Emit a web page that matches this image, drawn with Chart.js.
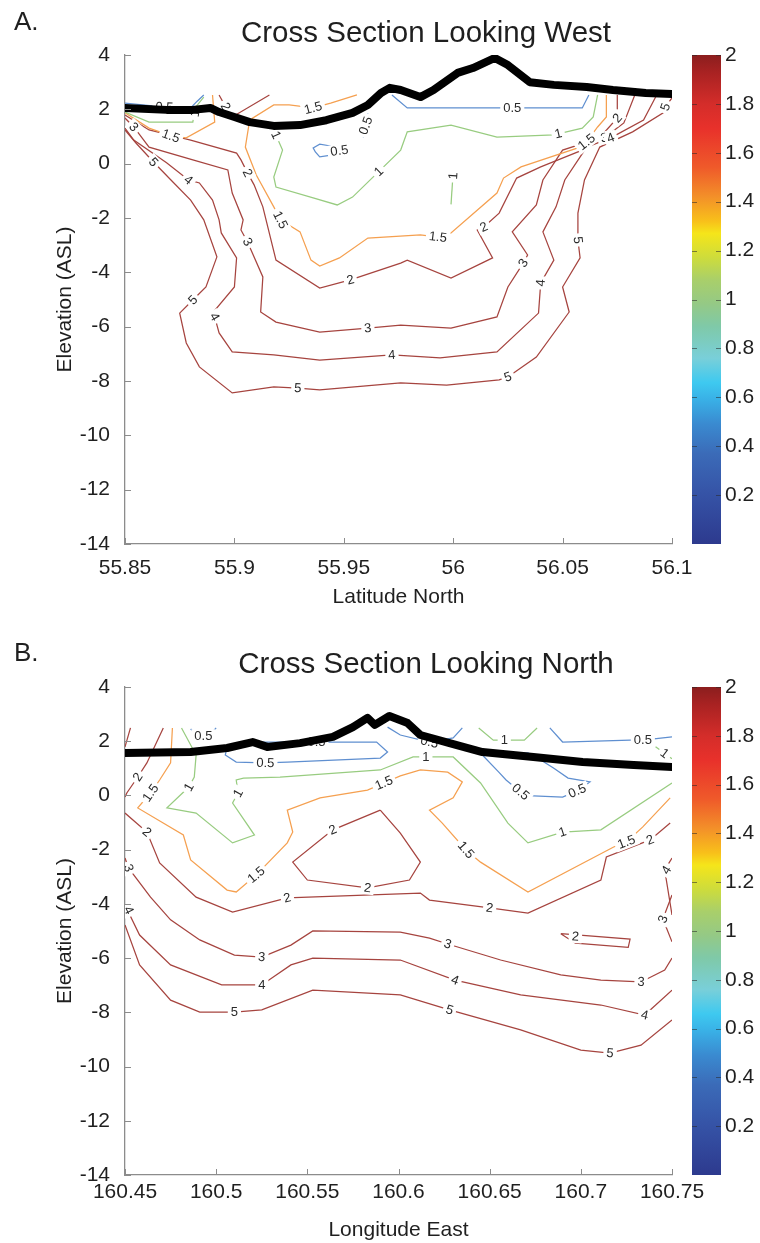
<!DOCTYPE html>
<html>
<head>
<meta charset="utf-8">
<title>Cross sections</title>
<script src="https://cdn.jsdelivr.net/npm/chart.js@4.4.1/dist/chart.umd.min.js"></script>
<style>
  html, body { margin: 0; padding: 0; background: #fff; }
  canvas { display: block; }
</style>
</head>
<body>
<canvas id="westChart" width="760" height="621"></canvas>
<canvas id="northChart" width="760" height="622"></canvas>
<script>
// ---------- axes ----------
const latTicks = [55.85, 55.9, 55.95, 56, 56.05, 56.1];
const lonTicks = [160.45, 160.5, 160.55, 160.6, 160.65, 160.7, 160.75];
const elevTicks = [4, 2, 0, -2, -4, -6, -8, -10, -12, -14];
const cbTicks = [0.2, 0.4, 0.6, 0.8, 1, 1.2, 1.4, 1.6, 1.8, 2];

// colormap of the colour bar (value -> colour)
const cmapAt = [0, 0.22, 0.37, 0.49, 0.59, 0.66, 0.76, 0.89, 0.98, 1.08, 1.17, 1.27, 1.32, 1.42, 1.54, 1.7, 1.8, 1.93, 2];
const cmapCol = ['#2d3a8e', '#3655a8', '#3b6bb8', '#3a8ad0', '#39b0e6', '#3ec9f0', '#79cfd9', '#7fc9a8', '#94c986', '#a9cf6a',
                 '#cddc3c', '#f5e51a', '#f8c01a', '#f39029', '#ef5a2a', '#e8312b', '#d42d2a', '#a82222', '#8b1e1e'];

// ---------- A: looking west (x = latitude N, y = elevation) ----------
const westTopo = [[55.85,2.05],[55.869,1.98],[55.881,1.98],[55.889,2.05],[55.893,1.9],[55.9,1.72],[55.907,1.53],[55.918,1.39],
  [55.93,1.42],[55.942,1.6],[55.954,1.87],[55.961,2.16],[55.967,2.6],[55.971,2.79],[55.976,2.71],[55.985,2.45],[55.991,2.71],
  [56.002,3.34],[56.009,3.52],[56.019,3.89],[56.025,3.63],[56.035,3.0],[56.046,2.9],[56.061,2.82],[56.073,2.71],[56.088,2.6],[56.1,2.56]];

const west05a = [[55.85,2.23],[55.866,2.1],[55.88,2.05],[55.883,2.3],[55.886,2.53]];
const west05b = [[55.944,0.65],[55.939,0.72],[55.936,0.58],[55.937,0.43],[55.939,0.25],[55.945,0.32]];
const west05c = [[55.961,1.85],[55.959,1.4],[55.959,0.95]];
const west05d = [[55.972,2.53],[55.979,2.05],[56.059,2.05],[56.062,2.53]];
const west1a = [[55.85,1.9],[55.861,1.53],[55.881,1.53],[55.882,2.05],[55.886,2.45]];
const west1b = [[55.971,2.75],[55.955,1.95],[55.93,1.45],[55.917,1.4],[55.919,1.05],[55.922,0.5],[55.918,-0.49],[55.919,-0.86],
  [55.936,-1.26],[55.947,-1.52],[55.954,-1.23],[55.976,0.5],[55.979,1.17],[55.999,1.42],[56.02,0.98],[56.046,1.06],[56.059,1.31],
  [56.064,1.72],[56.066,2.53]];
const west1c = [[56.0,-0.3],[55.999,-1.5]];
const west15a = [[55.85,1.87],[55.861,1.31],[55.871,1.02],[55.878,0.95],[55.891,1.53],[55.89,2.53]];
const west15b = [[55.956,2.53],[55.944,2.23],[55.936,2.05],[55.925,2.16],[55.918,2.16],[55.907,1.61],[55.905,0.61],[55.91,-0.42],
  [55.918,-1.59],[55.921,-2.07],[55.93,-2.51],[55.935,-3.55],[55.939,-3.77],[55.948,-3.47],[55.961,-2.74],[55.985,-2.62],
  [55.993,-2.7],[55.999,-2.55],[56.02,-1.08],[56.023,-0.53],[56.031,-0.12],[56.058,0.61],[56.061,0.8],[56.066,1.35],[56.07,1.72],[56.07,2.53]];
const west2a = [[55.893,2.53],[55.896,2.09],[55.899,1.72],[55.916,2.53]];
const west2b = [[55.85,1.79],[55.861,1.24],[55.88,0.87],[55.901,0.39],[55.903,0.14],[55.906,-0.34],[55.909,-0.78],[55.913,-1.59],
  [55.919,-3.55],[55.939,-4.58],[55.953,-4.28],[55.976,-3.66],[55.979,-3.55],[55.999,-4.21],[56.018,-3.47],[56.011,-2.44],
  [56.014,-2.33],[56.021,-1.82],[56.029,-0.53],[56.04,-0.12],[56.059,0.5],[56.066,0.87],[56.075,1.68],[56.075,2.53]];
const west3 = [[55.85,1.68],[55.854,1.35],[55.861,0.61],[55.881,0.14],[55.897,-0.23],[55.899,-1.08],[55.904,-2.07],[55.903,-2.44],
  [55.906,-2.88],[55.913,-4.17],[55.912,-5.46],[55.919,-5.83],[55.939,-6.2],[55.961,-6.05],[55.976,-5.94],[55.999,-6.05],
  [56.02,-5.64],[56.025,-4.54],[56.032,-3.66],[56.034,-3.36],[56.027,-2.51],[56.038,-1.52],[56.041,-0.6],[56.05,0.5],
  [56.064,0.87],[56.069,0.95],[56.078,1.5],[56.083,2.53]];
const west4 = [[55.85,1.31],[55.854,0.87],[55.869,0.03],[55.879,-0.6],[55.884,-0.71],[55.89,-1.34],[55.893,-2.07],[55.894,-2.55],
  [55.901,-3.47],[55.9,-4.54],[55.89,-5.5],[55.891,-5.64],[55.893,-6.23],[55.899,-6.93],[55.918,-7.04],[55.939,-7.23],
  [55.972,-7.04],[55.994,-7.15],[56.02,-6.93],[56.039,-5.5],[56.04,-4.39],[56.046,-3.55],[56.041,-2.51],[56.047,-1.59],
  [56.051,-0.6],[56.061,0.61],[56.072,0.95],[56.087,1.61],[56.093,2.53]];
const west5 = [[55.85,1.24],[55.855,0.76],[55.863,0.06],[55.871,-0.6],[55.88,-1.34],[55.886,-2.07],[55.892,-3.43],[55.887,-4.54],
  [55.881,-5.02],[55.875,-5.5],[55.878,-6.6],[55.884,-7.48],[55.899,-8.44],[55.918,-8.22],[55.929,-8.26],[55.939,-8.33],
  [55.976,-8.07],[55.997,-8.15],[56.021,-7.96],[56.025,-7.85],[56.038,-7.12],[56.053,-5.46],[56.05,-4.54],[56.058,-3.47],
  [56.057,-2.81],[56.057,-1.82],[56.06,-0.6],[56.067,0.61],[56.082,1.17],[56.096,1.87],[56.097,2.09],[56.1,2.42]];

const westLines = [
  {level: 0.5, pts: west05a, labels: [[55.868, 2.08]]},
  {level: 0.5, pts: west05b, labels: [[55.948, 0.48]]},
  {level: 0.5, pts: west05c, labels: [[55.96, 1.4]]},
  {level: 0.5, pts: west05d, labels: [[56.027, 2.05]]},
  {level: 1, pts: west1a, labels: [[55.882, 1.85]]},
  {level: 1, pts: west1b, labels: [[55.919, 1.05], [55.966, -0.29], [56.048, 1.1]]},
  {level: 1, pts: west1c, labels: [[56.0, -0.45]]},
  {level: 1.5, pts: west15a, labels: [[55.871, 1.02]]},
  {level: 1.5, pts: west15b, labels: [[55.936, 2.05], [55.921, -2.07], [55.993, -2.7], [56.061, 0.8]]},
  {level: 2, pts: west2a, labels: [[55.896, 2.1]]},
  {level: 2, pts: west2b, labels: [[55.906, -0.34], [55.953, -4.28], [56.014, -2.33], [56.075, 1.68]]},
  {level: 3, pts: west3, labels: [[55.854, 1.35], [55.906, -2.88], [55.961, -6.05], [56.032, -3.66], [56.069, 0.95]]},
  {level: 4, pts: west4, labels: [[55.879, -0.6], [55.891, -5.64], [55.972, -7.04], [56.04, -4.39], [56.072, 0.95]]},
  {level: 5, pts: west5, labels: [[55.863, 0.06], [55.881, -5.02], [55.929, -8.26], [56.025, -7.85], [56.057, -2.81], [56.097, 2.09]]}
];

// ---------- B: looking north (x = longitude E, y = elevation) ----------
const northTopo = [[160.45,1.57],[160.486,1.6],[160.506,1.75],[160.52,1.97],[160.528,1.79],[160.546,1.93],[160.564,2.16],
  [160.575,2.52],[160.583,2.86],[160.587,2.6],[160.595,2.93],[160.605,2.67],[160.612,2.23],[160.628,1.93],[160.646,1.6],
  [160.674,1.42],[160.701,1.23],[160.729,1.12],[160.75,1.05]];

const north05a = [[160.486,2.45],[160.49,2.2],[160.496,2.2],[160.5,2.49]];
const north05b = [[160.506,1.79],[160.505,1.49],[160.511,1.23],[160.527,1.2],[160.539,1.23],[160.59,1.38],[160.594,1.6],
  [160.588,1.97],[160.553,1.97],[160.513,1.97],[160.506,1.79]];
const north05c = [[160.594,2.52],[160.601,2.23],[160.617,1.97],[160.63,2.12],[160.635,2.49]];
const north05d = [[160.646,1.49],[160.655,0.86],[160.659,0.57],[160.667,0.13],[160.674,-0.02],[160.69,-0.06],[160.698,0.17],
  [160.705,0.5],[160.693,0.64],[160.685,1.01],[160.678,1.31],[160.671,1.57],[160.646,1.49]];
const north05e = [[160.683,2.49],[160.69,1.97],[160.727,2.04],[160.734,2.04],[160.75,2.16]];
const north1a = [[160.481,2.49],[160.489,1.49],[160.488,0.68],[160.485,0.31],[160.473,-0.46],[160.489,-0.65],[160.509,-1.75],
  [160.521,-1.46],[160.509,-0.28],[160.512,0.09],[160.511,0.57],[160.515,0.64],[160.535,0.68],[160.59,0.94],[160.608,1.42],
  [160.615,1.42],[160.63,1.42],[160.645,0.46],[160.66,-1.02],[160.671,-1.75],[160.69,-1.35],[160.711,-1.27],[160.75,0.46]];
const north1b = [[160.644,2.49],[160.652,2.04],[160.658,2.04],[160.669,2.04],[160.676,2.49]];
const north1c = [[160.741,1.8],[160.75,1.35]];
const north15 = [[160.476,2.49],[160.475,1.2],[160.469,0.57],[160.464,0.09],[160.457,-0.46],[160.482,-1.46],[160.486,-2.38],
  [160.506,-3.49],[160.511,-3.56],[160.522,-2.93],[160.539,-1.75],[160.542,-1.35],[160.539,-0.54],[160.557,-0.09],[160.583,0.2],
  [160.592,0.46],[160.601,0.72],[160.612,0.94],[160.627,0.86],[160.635,0.5],[160.63,-0.09],[160.617,-0.54],[160.624,-1.02],
  [160.637,-2.01],[160.645,-2.46],[160.671,-3.56],[160.718,-1.9],[160.725,-1.72],[160.734,-1.16],[160.749,-0.09]];
const north2a = [[160.453,2.49],[160.45,1.79]];
const north2b = [[160.471,2.49],[160.462,1.2],[160.457,0.68],[160.451,0.09],[160.45,-0.06]];
const north2c = [[160.45,-0.65],[160.462,-1.35],[160.469,-2.49],[160.489,-3.75],[160.509,-4.3],[160.539,-3.78],[160.612,-3.6],
  [160.617,-3.86],[160.65,-4.15],[160.671,-4.34],[160.711,-3.12],[160.714,-2.27],[160.738,-1.64],[160.749,-1.02]];
const north2d = [[160.59,-0.54],[160.564,-1.27],[160.542,-2.46],[160.55,-3.12],[160.583,-3.41],[160.606,-3.12],[160.612,-2.46],
  [160.601,-1.39],[160.59,-0.54]];
const north2e = [[160.689,-5.1],[160.727,-5.3],[160.726,-5.6],[160.697,-5.45],[160.689,-5.1]];
const north3 = [[160.45,-2.31],[160.452,-2.68],[160.464,-3.75],[160.475,-4.59],[160.491,-5.33],[160.51,-5.89],[160.525,-5.96],
  [160.541,-5.52],[160.553,-5.0],[160.601,-5.04],[160.617,-5.26],[160.627,-5.48],[160.656,-6.07],[160.689,-6.62],[160.711,-6.81],
  [160.733,-6.88],[160.746,-6.44],[160.75,-6.0]];
const north3r = [[160.75,-3.67],[160.745,-4.56],[160.75,-5.4]];
const north4 = [[160.45,-4.04],[160.458,-5.15],[160.475,-6.25],[160.503,-6.99],[160.525,-6.99],[160.541,-6.25],[160.553,-6.0],
  [160.601,-6.07],[160.631,-6.81],[160.667,-7.36],[160.711,-7.73],[160.735,-8.1],[160.75,-7.18]];
const north4r = [[160.75,-2.31],[160.746,-2.75],[160.75,-4.41]];
const north5 = [[160.45,-4.78],[160.458,-6.25],[160.475,-7.55],[160.491,-7.99],[160.51,-7.99],[160.525,-7.91],[160.553,-7.18],
  [160.601,-7.36],[160.628,-7.91],[160.667,-8.65],[160.7,-9.39],[160.716,-9.5],[160.733,-9.21],[160.75,-8.28]];

const northLines = [
  {level: 0.5, pts: north05a, labels: [[160.493, 2.2]]},
  {level: 0.5, pts: north05b, labels: [[160.527, 1.2], [160.555, 1.97]]},
  {level: 0.5, pts: north05c, labels: [[160.617, 1.97]]},
  {level: 0.5, pts: north05d, labels: [[160.667, 0.13], [160.698, 0.17]]},
  {level: 0.5, pts: north05e, labels: [[160.734, 2.04]]},
  {level: 1, pts: north1a, labels: [[160.485, 0.31], [160.512, 0.09], [160.615, 1.42], [160.69, -1.35]]},
  {level: 1, pts: north1b, labels: [[160.658, 2.04]]},
  {level: 1, pts: north1c, labels: [[160.746, 1.55]]},
  {level: 1.5, pts: north15, labels: [[160.464, 0.09], [160.522, -2.93], [160.592, 0.46], [160.637, -2.01], [160.725, -1.72]]},
  {level: 2, pts: north2a, labels: []},
  {level: 2, pts: north2b, labels: [[160.457, 0.68]]},
  {level: 2, pts: north2c, labels: [[160.462, -1.35], [160.539, -3.78], [160.65, -4.15], [160.738, -1.64]]},
  {level: 2, pts: north2d, labels: [[160.564, -1.27], [160.583, -3.41]]},
  {level: 2, pts: north2e, labels: [[160.697, -5.2]]},
  {level: 3, pts: north3, labels: [[160.452, -2.68], [160.525, -5.96], [160.627, -5.48], [160.733, -6.88]]},
  {level: 3, pts: north3r, labels: [[160.745, -4.56]]},
  {level: 4, pts: north4, labels: [[160.452, -4.23], [160.525, -6.99], [160.631, -6.81], [160.735, -8.1]]},
  {level: 4, pts: north4r, labels: [[160.747, -2.75]]},
  {level: 5, pts: north5, labels: [[160.51, -7.99], [160.628, -7.91], [160.716, -9.5]]}
];

// ---------- styling ----------
const FONT = '"Liberation Sans", Arial, Helvetica, sans-serif';
const TXT = '#1f1f1f';
const AXIS = '#8c8c8c';
const lineColour = lv => lv <= 0.5 ? '#5f8fd0' : lv <= 1 ? '#98cc80' : lv <= 1.5 ? '#f5a050' : '#a6443f';
const fmt = v => String(Math.round(v * 100) / 100);
const xy = a => a.map(p => ({x: p[0], y: p[1]}));

// fixed axis box sizes; also drop the label overhang padding so layout padding rules
function fixSize(w, h) {
  return s => {
    if (w != null) s.width = w;
    if (h != null) s.height = h;
    s.paddingTop = s.paddingBottom = s.paddingLeft = s.paddingRight = 0;
  };
}

// contour labels, drawn just before the topography (dataset 0 is drawn last)
function labelPlugin(lines) {
  return {
    id: 'contourLabels',
    beforeDatasetDraw(chart, args) {
      if (args.index !== 0) return;
      const {ctx, chartArea: a} = chart;
      const xs = chart.scales.x, ys = chart.scales.y;
      ctx.save();
      ctx.beginPath();
      ctx.rect(a.left, a.top, a.right - a.left, a.bottom - a.top);
      ctx.clip();
      ctx.font = '13px ' + FONT;
      ctx.textAlign = 'center';
      ctx.textBaseline = 'middle';
      lines.forEach(line => {
        const px = line.pts.map(p => [xs.getPixelForValue(p[0]), ys.getPixelForValue(p[1])]);
        line.labels.forEach(lb => {
          const lx = xs.getPixelForValue(lb[0]), ly = ys.getPixelForValue(lb[1]);
          let best = Infinity, ang = 0;
          for (let i = 1; i < px.length; i++) {
            const [x1, y1] = px[i - 1], [x2, y2] = px[i];
            const dx = x2 - x1, dy = y2 - y1, len2 = dx * dx + dy * dy || 1;
            const t = Math.max(0, Math.min(1, ((lx - x1) * dx + (ly - y1) * dy) / len2));
            const qx = x1 + t * dx - lx, qy = y1 + t * dy - ly, d = qx * qx + qy * qy;
            if (d < best) { best = d; ang = Math.atan2(dy, dx); }
          }
          if (ang > Math.PI / 2) ang -= Math.PI;
          if (ang < -Math.PI / 2) ang += Math.PI;
          const txt = fmt(line.level);
          const w = ctx.measureText(txt).width;
          ctx.save();
          ctx.translate(lx, ly);
          ctx.rotate(ang);
          ctx.fillStyle = '#fff';
          ctx.fillRect(-w / 2 - 3, -6.5, w + 6, 13);
          ctx.fillStyle = '#2a2a2a';
          ctx.fillText(txt, 0, 0.5);
          ctx.restore();
        });
      });
      ctx.restore();
    }
  };
}

// inward tick marks + colour bar + titles
function decorPlugin(letter, title, letterY, titleY) {
  return {
    id: 'decor',
    afterDraw(chart) {
      const {ctx, chartArea: a} = chart;
      const xs = chart.scales.x, ys = chart.scales.y, cb = chart.scales.cb;
      ctx.save();
      ctx.strokeStyle = AXIS;
      ctx.lineWidth = 1;
      ctx.beginPath();
      xs.ticks.forEach(t => {
        const p = Math.round(xs.getPixelForValue(t.value)) + 0.5;
        ctx.moveTo(p, a.bottom); ctx.lineTo(p, a.bottom - 6);
      });
      ys.ticks.forEach(t => {
        const p = Math.round(ys.getPixelForValue(t.value)) + 0.5;
        ctx.moveTo(a.left, p); ctx.lineTo(a.left + 6, p);
      });
      ctx.stroke();

      // colour bar
      const top = cb.getPixelForValue(2), bot = cb.getPixelForValue(0);
      const x0 = cb.left + 20, w = 29;
      const g = ctx.createLinearGradient(0, bot, 0, top);
      cmapAt.forEach((v, i) => g.addColorStop(v / 2, cmapCol[i]));
      ctx.fillStyle = g;
      ctx.fillRect(x0, top, w, bot - top);
      ctx.strokeStyle = 'rgba(40,40,40,0.55)';
      ctx.beginPath();
      cbTicks.forEach(v => {
        const p = Math.round(cb.getPixelForValue(v)) + 0.5;
        ctx.moveTo(x0, p); ctx.lineTo(x0 + 5, p);
        ctx.moveTo(x0 + w - 5, p); ctx.lineTo(x0 + w, p);
      });
      ctx.stroke();

      ctx.fillStyle = TXT;
      ctx.textBaseline = 'middle';
      ctx.font = '26px ' + FONT;
      ctx.textAlign = 'left';
      ctx.fillText(letter, 14, letterY);
      ctx.font = '29.5px ' + FONT;
      ctx.textAlign = 'center';
      ctx.fillText(title, 426, titleY);
      ctx.restore();
    }
  };
}

function buildPanel(id, p) {
  const datasets = [{
    data: xy(p.topo), borderColor: '#000', borderWidth: 8,
    borderJoinStyle: 'round', borderCapStyle: 'round', showLine: true, pointRadius: 0
  }];
  p.lines.forEach(l => datasets.push({
    data: xy(l.pts), borderColor: lineColour(l.level), borderWidth: 1.25, showLine: true, pointRadius: 0
  }));
  const tickFont = {family: FONT, size: 21};
  return new Chart(document.getElementById(id), {
    type: 'scatter',
    data: {datasets},
    options: {
      responsive: false,
      animation: false,
      events: [],
      layout: {padding: {top: p.padTop, bottom: p.padBottom, left: 0, right: 0}},
      plugins: {legend: {display: false}, tooltip: {enabled: false}},
      scales: {
        x: {
          type: 'linear', min: p.xTicks[0], max: p.xTicks[p.xTicks.length - 1],
          afterFit: fixSize(null, p.xAxisH),
          afterBuildTicks: s => { s.ticks = p.xTicks.map(v => ({value: v})); },
          grid: {display: false, drawTicks: false},
          border: {display: true, color: AXIS, width: 1.3},
          ticks: {font: tickFont, color: TXT, padding: p.xTickPad, maxRotation: 0, autoSkip: false, callback: v => fmt(v)},
          title: {display: true, text: p.xTitle, font: tickFont, color: TXT, padding: {top: 0, bottom: p.xTitlePad}}
        },
        y: {
          type: 'linear', min: -14, max: 4,
          afterFit: fixSize(125, null),
          afterBuildTicks: s => { s.ticks = elevTicks.map(v => ({value: v})); },
          grid: {display: false, drawTicks: false},
          border: {display: true, color: AXIS, width: 1.3},
          ticks: {font: tickFont, color: TXT, padding: 15, autoSkip: false, callback: v => fmt(v)},
          title: {display: true, text: 'Elevation (ASL)', font: tickFont, color: TXT, padding: {top: 53, bottom: 0}}
        },
        cb: {
          type: 'linear', position: 'right', min: 0, max: 2,
          afterFit: fixSize(88, null),
          afterBuildTicks: s => { s.ticks = cbTicks.map(v => ({value: v})); },
          grid: {display: false, drawTicks: false},
          border: {display: false},
          ticks: {font: tickFont, color: TXT, padding: 53, autoSkip: false, callback: v => fmt(v)}
        }
      }
    },
    plugins: [labelPlugin(p.lines), decorPlugin(p.letter, p.title, p.letterY, p.titleY)]
  });
}

buildPanel('westChart', {
  topo: westTopo, lines: westLines, xTicks: latTicks, xTitle: 'Latitude North',
  letter: 'A.', title: 'Cross Section Looking West', letterY: 23, titleY: 34,
  padTop: 55, padBottom: 7, xAxisH: 70, xTickPad: 12, xTitlePad: 4
});
buildPanel('northChart', {
  topo: northTopo, lines: northLines, xTicks: lonTicks, xTitle: 'Longitude East',
  letter: 'B.', title: 'Cross Section Looking North', letterY: 33, titleY: 44,
  padTop: 66, padBottom: 0, xAxisH: 68, xTickPad: 5, xTitlePad: 0
});
</script>
</body>
</html>
